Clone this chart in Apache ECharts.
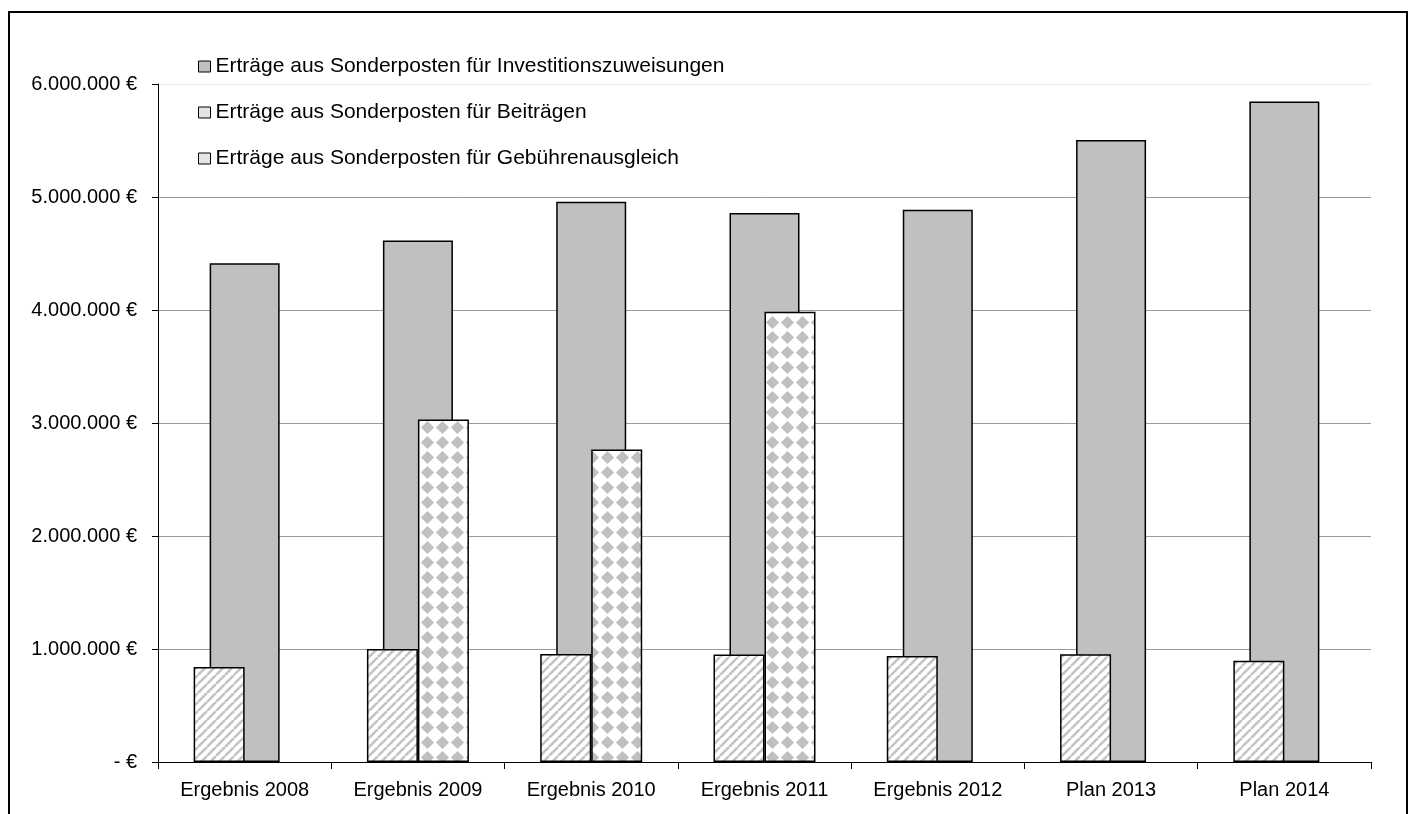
<!DOCTYPE html>
<html>
<head>
<meta charset="utf-8">
<script src="https://cdn.jsdelivr.net/npm/echarts@6/dist/echarts.min.js"></script>
<style>
html,body{margin:0;padding:0;background:#fff;}
#chart{width:1410px;height:814px;}
</style>
</head>
<body>
<div id="chart"></div>
<script>
const categories = ['Ergebnis 2008','Ergebnis 2009','Ergebnis 2010','Ergebnis 2011','Ergebnis 2012','Plan 2013','Plan 2014'];
const seriesNames = [
  'Erträge aus Sonderposten für Investitionszuweisungen',
  'Erträge aus Sonderposten für Beiträgen',
  'Erträge aus Sonderposten für Gebührenausgleich'
];
const investitionszuweisungen = [4414000, 4614000, 4958000, 4859000, 4888000, 5505000, 5845000];
const beitraege = [840000, 1000000, 955000, 951000, 939000, 954000, 895000];
const gebuehrenausgleich = [null, 3030000, 2765000, 3985000, null, null, null];
const yTickLabels = ['- €','1.000.000 €','2.000.000 €','3.000.000 €','4.000.000 €','5.000.000 €','6.000.000 €'];

function makeHatch() {
  const c = document.createElement('canvas');
  const s = 9;
  c.width = s; c.height = s;
  const g = c.getContext('2d');
  g.fillStyle = '#ffffff';
  g.fillRect(0, 0, s, s);
  g.strokeStyle = '#c4c4c4';
  g.lineWidth = 2.6;
  g.beginPath();
  for (let k = -1; k <= 1; k++) {
    g.moveTo(k * s, s);
    g.lineTo(k * s + s, 0);
  }
  g.stroke();
  return c;
}
function makeDiamond() {
  const c = document.createElement('canvas');
  const p = 15;
  c.width = p; c.height = p;
  const g = c.getContext('2d');
  g.fillStyle = '#ffffff';
  g.fillRect(0, 0, p, p);
  g.fillStyle = '#c0c0c0';
  const h = 6.6;
  const cx = p / 2, cy = p / 2;
  g.beginPath();
  g.moveTo(cx, cy - h);
  g.lineTo(cx + h, cy);
  g.lineTo(cx, cy + h);
  g.lineTo(cx - h, cy);
  g.closePath();
  g.fill();
  return c;
}

const chart = echarts.init(document.getElementById('chart'));
const font = 'Liberation Sans, Arial, sans-serif';
const borderStyle = { borderColor: '#000', borderWidth: 1.5 };

chart.setOption({
  backgroundColor: '#fff',
  animation: false,
  textStyle: { fontFamily: font, color: '#000' },
  graphic: [{
    type: 'rect',
    shape: { x: 9, y: 12, width: 1398, height: 830 },
    style: { fill: 'none', stroke: '#000', lineWidth: 2 },
    silent: true, z: -1
  }],
  legend: {
    orient: 'vertical',
    left: 193,
    top: 51,
    itemWidth: 12,
    itemHeight: 11,
    itemGap: 25,
    icon: 'rect',
    textStyle: { fontSize: 21, lineHeight: 21, color: '#000', fontFamily: font },
    data: [
      { name: seriesNames[0], itemStyle: { color: '#c0c0c0', borderColor: '#000', borderWidth: 1 } },
      { name: seriesNames[1], itemStyle: { color: '#e4e4e4', borderColor: '#000', borderWidth: 1 } },
      { name: seriesNames[2], itemStyle: { color: '#e4e4e4', borderColor: '#000', borderWidth: 1 } }
    ]
  },
  grid: { left: 158, right: 39, top: 84, bottom: 52, containLabel: false },
  xAxis: [{
    type: 'category',
    data: categories,
    axisLine: { lineStyle: { color: '#000', width: 1 } },
    axisTick: { show: true, length: 7, lineStyle: { color: '#000' } },
    axisLabel: { fontSize: 20, color: '#000', margin: 18, fontFamily: font }
  }, {
    type: 'category',
    data: categories,
    show: false
  }],
  yAxis: {
    type: 'value',
    min: 0, max: 6000000, interval: 1000000,
    axisLine: { show: true, lineStyle: { color: '#000', width: 1 } },
    axisTick: { show: true, length: 6, lineStyle: { color: '#000' } },
    axisLabel: {
      fontSize: 20, color: '#000', margin: 21, fontFamily: font,
      formatter: function (v) { return yTickLabels[Math.round(v / 1000000)]; }
    },
    splitLine: { show: true, lineStyle: { color: ['#9a9a9a','#9a9a9a','#9a9a9a','#9a9a9a','#9a9a9a','#9a9a9a','#ececec'], width: 1 } }
  },
  series: [{
    name: seriesNames[0],
    type: 'bar',
    xAxisIndex: 0,
    data: investitionszuweisungen,
    barWidth: 70,
    itemStyle: Object.assign({ color: '#c0c0c0' }, borderStyle),
    z: 2
  }, {
    name: seriesNames[1],
    type: 'bar',
    xAxisIndex: 1,
    data: beitraege,
    barWidth: 51,
    barGap: '0%',
    itemStyle: Object.assign({ color: { image: makeHatch(), repeat: 'repeat' } }, borderStyle),
    z: 3
  }, {
    name: seriesNames[2],
    type: 'bar',
    xAxisIndex: 1,
    data: gebuehrenausgleich,
    barWidth: 51,
    barGap: '0%',
    itemStyle: Object.assign({ color: { image: makeDiamond(), repeat: 'repeat' } }, borderStyle),
    z: 3
  }]
});
</script>
</body>
</html>
